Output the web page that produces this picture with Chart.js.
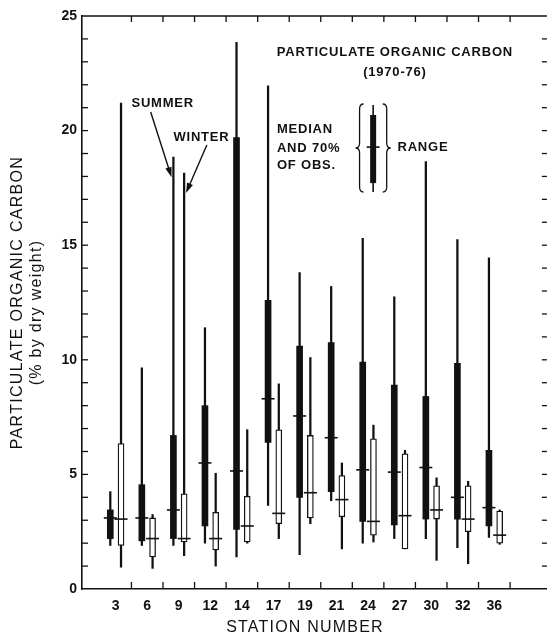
<!DOCTYPE html>
<html>
<head>
<meta charset="utf-8">
<script src="https://cdn.jsdelivr.net/npm/chart.js@4.4.1/dist/chart.umd.min.js"></script>
<style>
  html, body { margin: 0; padding: 0; background: #fff; }
  #wrap { width: 555px; height: 636px; }
</style>
</head>
<body>
<div id="wrap"><canvas id="chart" width="555" height="636"></canvas></div>
<script>
// station numbers along the x axis
const stations = ['3', '6', '9', '12', '14', '17', '19', '21', '24', '27', '30', '32', '36'];

// summer (filled boxes): range ends, 70% band, median  (% by dry weight)
const summerMin  = [1.9, 1.9, 1.9, 2.0, 1.4, 3.65, 1.5, 3.85, 2.0, 2.2, 2.2, 1.8, 2.25];
const summerLow  = [2.2, 2.1, 2.2, 2.75, 2.6, 6.4, 4.0, 4.25, 2.95, 2.8, 3.05, 3.05, 2.75];
const summerMed  = [3.1, 3.1, 3.45, 5.5, 5.15, 8.3, 7.55, 6.6, 5.2, 5.1, 5.3, 4.0, 3.55];
const summerHigh = [3.45, 4.55, 6.7, 8.0, 19.7, 12.6, 10.6, 10.75, 9.9, 8.9, 8.4, 9.85, 6.05];
const summerMax  = [4.25, 9.65, 18.85, 11.4, 23.85, 21.95, 13.8, 13.2, 15.3, 12.75, 18.65, 15.25, 14.45];

// winter (open boxes)
const winterMin  = [0.95, 0.9, 1.45, 1.0, 2.0, 2.2, 2.85, 1.75, 2.05, 1.75, 1.25, 1.1, 1.95];
const winterLow  = [1.9, 1.4, 2.05, 1.7, 2.05, 2.85, 3.1, 3.15, 2.35, 1.75, 3.05, 2.5, 2.0];
const winterMed  = [3.05, 2.2, 2.2, 2.2, 2.75, 3.3, 4.2, 3.9, 2.95, 3.2, 3.45, 3.05, 2.35];
const winterHigh = [6.35, 3.1, 4.15, 3.35, 4.05, 6.95, 6.7, 4.95, 6.55, 5.9, 4.5, 4.5, 3.4];
const winterMax  = [21.2, 3.25, 18.15, 5.05, 6.95, 8.95, 10.1, 5.5, 7.15, 6.05, 4.85, 4.7, 3.45];

const yTicks = [0, 5, 10, 15, 20, 25];

const ink = '#111';
const FONT = '"Liberation Sans", Arial, sans-serif';
const SUMMER_SHIFT = -0.17;
const WINTER_SHIFT = 0.17;

const place = (i, shift) => i + 0.5 + shift;
const spans = (lo, hi, shift) => stations.map((s, i) => ({ x: place(i, shift), y: [lo[i], hi[i]] }));
const points = (vals, shift) => stations.map((s, i) => ({ x: place(i, shift), y: vals[i] }));

// frame, inward ticks, titles and the hand-lettered notes
const decor = {
  id: 'decor',
  afterDraw(chart) {
    const { ctx, chartArea: a, scales: { x, y } } = chart;
    const X = v => x.getPixelForValue(v);
    const Y = v => y.getPixelForValue(v);
    const seg = (x1, y1, x2, y2) => { ctx.beginPath(); ctx.moveTo(x1, y1); ctx.lineTo(x2, y2); ctx.stroke(); };
    const text = (str, px, py, font, align, spacing) => {
      ctx.font = font;
      ctx.textAlign = align || 'left';
      ctx.textBaseline = 'middle';
      ctx.letterSpacing = (spacing || 0) + 'px';
      ctx.fillText(str, px, py);
    };
    const arrow = (x1, y1, x2, y2) => {
      const px1 = X(x1), py1 = Y(y1), px2 = X(x2), py2 = Y(y2);
      const ang = Math.atan2(py2 - py1, px2 - px1);
      seg(px1, py1, px2 - Math.cos(ang) * 6, py2 - Math.sin(ang) * 6);
      ctx.beginPath();
      ctx.moveTo(px2, py2);
      ctx.lineTo(px2 - Math.cos(ang) * 10 + Math.sin(ang) * 3.2, py2 - Math.sin(ang) * 10 - Math.cos(ang) * 3.2);
      ctx.lineTo(px2 - Math.cos(ang) * 10 - Math.sin(ang) * 3.2, py2 - Math.sin(ang) * 10 + Math.cos(ang) * 3.2);
      ctx.closePath();
      ctx.fill();
    };
    const brace = (bx, top, bottom, dir) => {
      const mid = (top + bottom) / 2, d = 4 * dir;
      ctx.beginPath();
      ctx.moveTo(bx + d, top);
      ctx.quadraticCurveTo(bx, top, bx, top + 5);
      ctx.lineTo(bx, mid - 5);
      ctx.quadraticCurveTo(bx, mid, bx - d, mid);
      ctx.quadraticCurveTo(bx, mid, bx, mid + 5);
      ctx.lineTo(bx, bottom - 5);
      ctx.quadraticCurveTo(bx, bottom, bx + d, bottom);
      ctx.stroke();
    };

    ctx.save();
    ctx.strokeStyle = ink;
    ctx.fillStyle = ink;

    ctx.lineWidth = 1.6;
    seg(a.left, a.top, a.right, a.top);

    ctx.lineWidth = 1.3;
    for (let v = 1; v < 25; v++) {
      seg(a.left, Y(v), a.left + 6, Y(v));
      seg(a.right - 5, Y(v), a.right, Y(v));
    }
    for (let k = 1; k <= stations.length; k++) {
      seg(X(k), a.bottom, X(k), a.bottom - 7);
      seg(X(k), a.top, X(k), a.top + 6);
    }

    // axis titles
    ctx.save();
    ctx.translate(18, (a.top + a.bottom) / 2);
    ctx.rotate(-Math.PI / 2);
    text('PARTICULATE ORGANIC CARBON', 0, 0, '16px ' + FONT, 'center', 1.3);
    ctx.restore();
    ctx.save();
    ctx.translate(37, (a.top + a.bottom) / 2 + 10);
    ctx.rotate(-Math.PI / 2);
    text('(% by dry weight)', 0, 0, '16px ' + FONT, 'center', 1.3);
    ctx.restore();
    text('STATION NUMBER', X(stations.length / 2), 628, '16px ' + FONT, 'center', 1.2);

    const bold = 'bold 13px ' + FONT;
    text('PARTICULATE ORGANIC CARBON', X(9.35), Y(23.43), bold, 'center', 0.8);
    text('(1970-76)', X(9.35), Y(22.52), bold, 'center', 0.8);

    text('SUMMER', X(1.0), Y(21.2), bold, 'left', 0.8);
    text('WINTER', X(2.33), Y(19.69), bold, 'left', 0.8);
    ctx.lineWidth = 1.4;
    arrow(1.61, 20.81, 2.27, 17.97);
    arrow(3.39, 19.37, 2.73, 17.28);

    text('MEDIAN', X(5.61), Y(20.03), bold, 'left', 0.8);
    text('AND 70%', X(5.61), Y(19.24), bold, 'left', 0.8);
    text('OF OBS.', X(5.61), Y(18.46), bold, 'left', 0.8);

    // key glyph: range line, 70% band, median tick
    const gx = X(8.66);
    ctx.lineWidth = 1.6;
    seg(gx, Y(21.12), gx, Y(17.32));
    ctx.fillRect(gx - 3, Y(20.68), 6, Y(17.71) - Y(20.68));
    seg(gx - 6.5, Y(19.28), gx + 6.5, Y(19.28));
    ctx.lineWidth = 1.3;
    brace(X(8.23), Y(21.16), Y(17.32), 1);
    brace(X(9.09), Y(21.16), Y(17.32), -1);
    text('RANGE', X(9.43), Y(19.26), bold, 'left', 0.8);

    ctx.restore();
  }
};

new Chart(document.getElementById('chart'), {
  type: 'bar',
  data: {
    datasets: [
      { type: 'bar', label: 'Summer range', data: spans(summerMin, summerMax, SUMMER_SHIFT),
        backgroundColor: ink, barThickness: 1.6, grouped: false, order: 3 },
      { type: 'bar', label: 'Winter range', data: spans(winterMin, winterMax, WINTER_SHIFT),
        backgroundColor: ink, barThickness: 1.6, grouped: false, order: 3 },
      { type: 'bar', label: 'Summer 70%', data: spans(summerLow, summerHigh, SUMMER_SHIFT),
        backgroundColor: ink, barThickness: 6, grouped: false, order: 2 },
      { type: 'bar', label: 'Winter 70%', data: spans(winterLow, winterHigh, WINTER_SHIFT),
        backgroundColor: '#fff', borderColor: ink, borderWidth: 1.3, borderSkipped: false,
        barThickness: 6, grouped: false, order: 2 },
      { type: 'scatter', label: 'Summer median', data: points(summerMed, SUMMER_SHIFT),
        pointStyle: 'line', pointRadius: 6.5, borderColor: ink, borderWidth: 1.6, order: 1 },
      { type: 'scatter', label: 'Winter median', data: points(winterMed, WINTER_SHIFT),
        pointStyle: 'line', pointRadius: 6.5, borderColor: ink, borderWidth: 1.6, order: 1 }
    ]
  },
  options: {
    responsive: false,
    animation: false,
    devicePixelRatio: 1,
    layout: { padding: { top: 16, right: 0, left: 0, bottom: 0 } },
    plugins: { legend: { display: false }, tooltip: { enabled: false } },
    scales: {
      x: {
        type: 'linear',
        min: 0,
        max: 13.6,
        afterBuildTicks: s => { s.ticks = stations.map((st, i) => ({ value: i + 0.5 })); },
        afterFit: s => { s.height = 47; },
        grid: { display: false, drawTicks: false },
        border: { display: true, color: ink, width: 1.6 },
        ticks: {
          callback: (v, i) => stations[i],
          autoSkip: false, maxRotation: 0, padding: 9, color: ink,
          font: { family: FONT, size: 14, weight: 'bold' }
        }
      },
      y: {
        min: 0,
        max: 25,
        afterBuildTicks: s => { s.ticks = yTicks.map(v => ({ value: v })); },
        afterFit: s => { s.width = 82; },
        grid: { display: false, drawTicks: false },
        border: { display: true, color: ink, width: 1.6 },
        ticks: {
          padding: 5, color: ink,
          font: { family: FONT, size: 14, weight: 'bold' }
        }
      }
    }
  },
  plugins: [decor]
});
</script>
</body>
</html>
